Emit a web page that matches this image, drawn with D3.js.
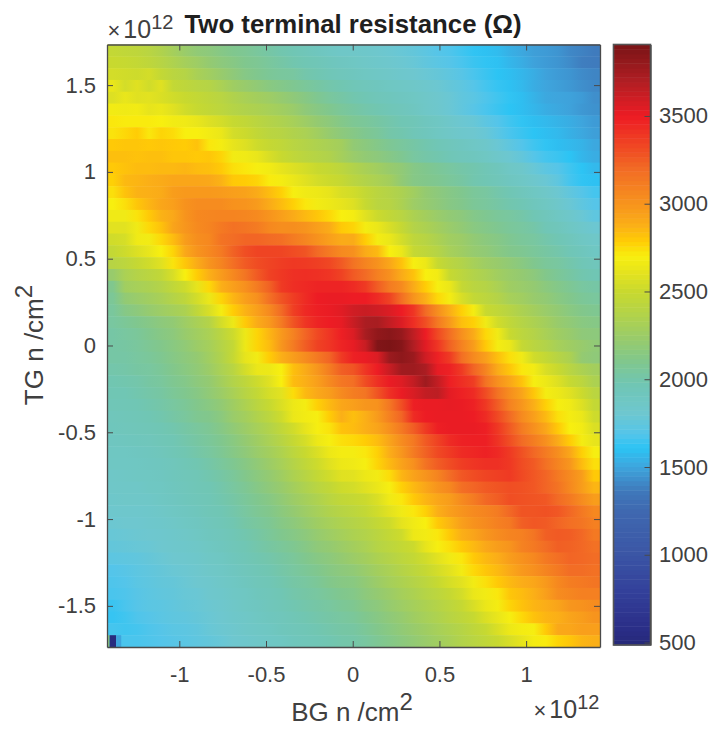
<!DOCTYPE html>
<html>
<head>
<meta charset="utf-8">
<script src="https://cdnjs.cloudflare.com/ajax/libs/d3/7.8.5/d3.min.js"></script>
<style>
  html, body { margin: 0; padding: 0; background: #fff; }
  svg { display: block; }
  text { font-family: "Liberation Sans", Arial, sans-serif; fill: #404040; }
</style>
</head>
<body>
<svg width="712" height="732"></svg>
<script>
// Two terminal resistance map, values in ohm.
// Rows go from the top of the plot (TG high) to the bottom, columns from BG low to BG high.
var resistanceRows = [
  [2470,2450,2440,2410,2360,2300,2240,2190,2170,2130,2100,2080,2050,2020,1990,1970,1940,1910,1880,1860,1850,1840,1820,1800,1780,1760,1730,1700,1680,1650,1620,1600,1580,1540,1510,1480,1470,1450,1410,1390,1370],
  [2500,2490,2470,2440,2400,2350,2300,2260,2210,2170,2140,2100,2080,2050,2020,1990,1970,1950,1920,1900,1880,1860,1840,1820,1800,1780,1750,1720,1700,1670,1640,1620,1600,1560,1530,1490,1470,1450,1420,1380,1370],
  [2540,2530,2520,2540,2470,2420,2390,2320,2280,2230,2180,2130,2100,2070,2050,2040,2000,1980,1950,1930,1910,1890,1870,1850,1830,1810,1790,1770,1740,1710,1670,1640,1610,1590,1560,1530,1490,1470,1450,1420,1400],
  [2630,2540,2590,2530,2590,2470,2440,2410,2390,2330,2270,2230,2190,2150,2120,2090,2060,2030,2000,1980,1950,1930,1910,1890,1870,1850,1830,1800,1770,1740,1700,1660,1630,1600,1570,1530,1500,1480,1460,1430,1410],
  [2580,2630,2590,2600,2570,2530,2500,2470,2440,2410,2360,2320,2290,2260,2220,2180,2140,2090,2050,2020,1990,1970,1940,1920,1900,1880,1850,1820,1790,1750,1720,1680,1650,1620,1590,1550,1510,1500,1490,1470,1430],
  [2670,2660,2670,2620,2640,2590,2530,2490,2460,2430,2390,2360,2340,2310,2280,2240,2180,2140,2100,2060,2030,2000,1980,1950,1930,1900,1860,1830,1790,1750,1710,1670,1640,1610,1590,1560,1530,1510,1490,1460,1440],
  [2720,2710,2710,2710,2700,2670,2660,2630,2580,2540,2490,2460,2420,2380,2350,2310,2260,2210,2170,2120,2080,2060,2030,2000,1970,1950,1910,1880,1840,1800,1780,1730,1690,1650,1620,1590,1570,1550,1530,1500,1470],
  [2730,2760,2790,2720,2770,2750,2700,2700,2670,2640,2540,2510,2460,2420,2400,2360,2330,2280,2220,2170,2130,2090,2060,2010,1990,1950,1920,1890,1860,1830,1810,1780,1720,1670,1640,1610,1590,1570,1540,1510,1480],
  [2800,2810,2810,2800,2810,2800,2790,2820,2720,2680,2620,2580,2520,2480,2450,2410,2380,2350,2320,2290,2200,2160,2120,2080,2050,2020,1990,1960,1930,1900,1870,1840,1790,1740,1690,1650,1620,1590,1570,1550,1510],
  [2830,2830,2820,2830,2830,2810,2810,2800,2810,2770,2670,2660,2630,2560,2500,2450,2420,2390,2360,2300,2240,2200,2170,2130,2090,2040,2010,1990,1960,1930,1910,1880,1840,1800,1760,1700,1660,1640,1610,1560,1530],
  [2800,2820,2840,2840,2850,2850,2860,2840,2830,2800,2740,2720,2690,2670,2620,2580,2540,2500,2470,2430,2370,2320,2280,2230,2190,2130,2100,2070,2040,2010,1990,1960,1920,1870,1840,1780,1730,1700,1650,1610,1570],
  [2780,2850,2860,2880,2900,2920,2920,2920,2910,2870,2800,2790,2770,2710,2680,2640,2590,2540,2510,2480,2420,2370,2330,2290,2200,2130,2110,2090,2060,2030,1990,1970,1940,1900,1870,1830,1790,1740,1660,1620,1600],
  [2740,2820,2870,2880,2900,2960,2980,2980,2980,2970,2950,2940,2900,2840,2780,2690,2660,2650,2620,2560,2530,2470,2420,2380,2340,2280,2210,2170,2130,2100,2060,2040,2000,1970,1930,1890,1850,1800,1750,1700,1660],
  [2700,2740,2810,2860,2920,2950,3010,3040,3040,3040,3010,3000,2970,2900,2840,2780,2720,2670,2650,2620,2580,2490,2420,2400,2340,2260,2220,2180,2140,2110,2070,2050,2020,1990,1970,1920,1890,1840,1790,1740,1700],
  [2660,2660,2730,2800,2870,2910,3000,3060,3070,3080,3080,3070,3050,3000,2950,2900,2850,2810,2760,2700,2680,2590,2510,2460,2410,2340,2290,2240,2200,2170,2120,2090,2060,2040,2010,1970,1930,1880,1840,1790,1740],
  [2600,2600,2660,2760,2820,2930,2990,3050,3080,3130,3170,3150,3120,3060,3030,3030,3000,2950,2900,2800,2770,2680,2640,2560,2480,2380,2340,2290,2240,2200,2150,2120,2090,2060,2040,2010,1960,1930,1880,1840,1800],
  [2530,2550,2660,2670,2760,2840,2960,3030,3060,3160,3190,3220,3220,3200,3180,3120,3070,3010,2950,2900,2900,2790,2680,2640,2540,2440,2400,2340,2280,2250,2200,2160,2130,2090,2060,2040,2000,1970,1930,1880,1850],
  [2470,2520,2575,2630,2700,2770,2910,3000,3060,3125,3230,3300,3340,3340,3335,3310,3280,3200,3120,3050,3020,2900,2850,2700,2640,2480,2440,2390,2310,2270,2220,2190,2150,2110,2090,2060,2030,2000,1960,1920,1880],
  [2400,2430,2480,2530,2590,2730,2810,2900,3000,3080,3180,3260,3310,3340,3370,3390,3380,3360,3330,3260,3160,3080,3010,2920,2820,2690,2650,2490,2420,2370,2310,2260,2230,2190,2150,2100,2060,2040,2000,1960,1930],
  [2230,2330,2380,2420,2460,2560,2700,2790,2880,2970,3060,3150,3260,3350,3390,3420,3430,3420,3400,3350,3260,3200,3100,3020,2900,2820,2700,2670,2490,2430,2370,2330,2280,2240,2210,2170,2110,2070,2030,1990,1970],
  [2100,2280,2310,2340,2380,2450,2520,2620,2760,2880,2950,3020,3120,3230,3380,3430,3450,3470,3470,3470,3440,3380,3250,3120,3050,2900,2790,2690,2640,2480,2420,2390,2330,2270,2240,2210,2160,2120,2080,2040,2020],
  [2070,2200,2240,2280,2320,2380,2440,2540,2640,2770,2860,2950,3020,3170,3280,3370,3440,3500,3510,3510,3500,3500,3440,3350,3180,3000,2880,2760,2680,2560,2470,2430,2380,2310,2280,2230,2200,2150,2110,2070,2050],
  [2050,2130,2170,2220,2260,2300,2340,2450,2560,2680,2790,2870,2950,3050,3200,3360,3450,3490,3510,3540,3600,3620,3600,3560,3500,3400,3200,3030,2890,2780,2680,2500,2450,2400,2340,2290,2240,2200,2150,2110,2090],
  [2040,2070,2100,2130,2170,2200,2260,2320,2380,2540,2650,2800,2900,2980,3120,3280,3400,3470,3500,3520,3620,3720,3730,3640,3560,3430,3300,3130,2980,2830,2780,2660,2530,2450,2390,2340,2290,2230,2190,2150,2130],
  [2020,2040,2060,2100,2140,2170,2230,2280,2330,2420,2520,2650,2770,2860,2980,3090,3220,3320,3400,3490,3560,3730,3820,3850,3800,3650,3500,3320,3180,3020,2900,2760,2660,2500,2430,2380,2320,2270,2230,2180,2170],
  [2020,2030,2050,2080,2110,2150,2190,2250,2300,2380,2470,2650,2770,2840,2990,3120,3250,3350,3400,3470,3520,3620,3880,3900,3860,3700,3540,3400,3230,3090,2960,2800,2680,2640,2480,2420,2370,2310,2270,2230,2190],
  [2020,2020,2040,2060,2090,2130,2170,2210,2280,2360,2480,2620,2670,2790,2880,2960,3040,3130,3220,3380,3480,3510,3560,3780,3830,3780,3600,3480,3380,3180,3050,2950,2830,2740,2660,2530,2470,2400,2340,2210,2180],
  [2000,2010,2030,2040,2070,2110,2150,2190,2250,2330,2410,2540,2640,2650,2700,2830,2900,2990,3110,3240,3280,3400,3500,3620,3760,3770,3720,3520,3480,3380,3220,3080,2900,2810,2720,2670,2560,2500,2410,2340,2290],
  [1980,1990,2000,2030,2050,2090,2120,2170,2210,2290,2370,2440,2520,2590,2700,2840,2880,2950,3050,3140,3180,3310,3420,3510,3550,3640,3770,3640,3490,3430,3370,3160,3020,2920,2820,2690,2650,2580,2490,2430,2340],
  [1970,1970,1990,2010,2030,2070,2100,2140,2190,2250,2320,2400,2470,2550,2600,2750,2850,2910,2960,3050,3110,3150,3280,3420,3510,3570,3640,3660,3530,3480,3440,3310,3160,3030,2930,2810,2680,2650,2590,2510,2420],
  [1950,1960,1970,1990,2010,2040,2070,2110,2150,2200,2270,2340,2420,2490,2570,2650,2680,2780,2850,2920,2950,2990,3010,3140,3300,3490,3510,3510,3520,3510,3480,3390,3250,3090,2990,2880,2780,2690,2660,2580,2470],
  [1930,1940,1950,1970,1990,2020,2050,2090,2110,2160,2240,2290,2360,2430,2520,2640,2670,2690,2790,2880,2830,2880,2970,3100,3220,3440,3500,3510,3510,3510,3500,3440,3320,3200,3050,2950,2850,2740,2680,2640,2520],
  [1920,1930,1940,1950,1970,1990,2020,2050,2080,2130,2190,2250,2310,2370,2450,2530,2620,2690,2730,2820,2840,2880,2930,3020,3130,3250,3380,3490,3510,3510,3510,3490,3390,3260,3120,3020,2920,2800,2700,2670,2570],
  [1900,1910,1920,1930,1950,1970,2000,2030,2060,2100,2150,2210,2270,2330,2400,2480,2550,2650,2690,2740,2760,2790,2840,2930,3040,3130,3260,3350,3440,3480,3490,3490,3410,3300,3200,3110,3020,2900,2790,2680,2620],
  [1890,1890,1900,1910,1930,1960,1980,2010,2040,2080,2130,2180,2240,2290,2350,2430,2500,2570,2650,2680,2680,2720,2780,2890,2990,3120,3230,3320,3380,3440,3460,3480,3450,3380,3290,3210,3120,3030,2920,2780,2690],
  [1880,1880,1890,1900,1910,1930,1960,1980,2010,2050,2090,2140,2190,2250,2310,2380,2450,2520,2590,2650,2660,2690,2770,2850,2940,3020,3160,3250,3310,3370,3400,3420,3420,3390,3310,3260,3170,3080,2990,2840,2740],
  [1860,1870,1880,1890,1900,1920,1940,1960,1990,2020,2060,2110,2160,2210,2270,2340,2400,2470,2530,2590,2600,2650,2670,2750,2860,2940,3000,3080,3190,3270,3310,3340,3360,3380,3320,3270,3220,3130,3050,2960,2800],
  [1850,1860,1860,1880,1890,1910,1930,1950,1970,2000,2040,2080,2130,2180,2230,2290,2350,2410,2460,2520,2540,2590,2640,2690,2780,2850,2920,3000,3060,3180,3220,3260,3280,3300,3290,3270,3220,3160,3060,2960,2860],
  [1840,1850,1850,1860,1880,1900,1920,1940,1960,1990,2020,2060,2100,2140,2190,2250,2300,2350,2410,2460,2480,2510,2570,2660,2720,2800,2860,2920,2960,3050,3120,3210,3250,3300,3290,3280,3270,3200,3130,3040,2960],
  [1820,1830,1830,1840,1860,1880,1900,1920,1950,1970,2000,2040,2080,2110,2160,2210,2260,2310,2360,2400,2430,2470,2530,2600,2660,2720,2780,2880,2950,3000,3050,3080,3120,3210,3280,3280,3290,3270,3210,3130,3060],
  [1800,1810,1810,1830,1840,1860,1880,1900,1930,1950,1980,2020,2050,2080,2130,2170,2220,2270,2310,2350,2380,2420,2470,2520,2610,2660,2700,2800,2860,2950,3010,3050,3100,3130,3240,3270,3260,3220,3180,3150,3100],
  [1780,1790,1800,1810,1820,1840,1860,1880,1910,1930,1960,1990,2020,2060,2100,2130,2170,2220,2260,2300,2340,2370,2420,2470,2520,2650,2670,2720,2800,2880,2930,2990,3040,3080,3100,3150,3240,3260,3250,3210,3130],
  [1760,1770,1780,1790,1810,1830,1840,1860,1890,1910,1940,1970,2000,2030,2060,2090,2130,2180,2210,2250,2290,2330,2390,2430,2470,2510,2620,2690,2740,2800,2850,2910,2960,3000,3090,3130,3190,3240,3230,3210,3170],
  [1730,1740,1750,1770,1790,1810,1820,1840,1870,1890,1920,1950,1980,2000,2030,2060,2100,2140,2170,2210,2250,2290,2340,2380,2430,2470,2530,2600,2660,2720,2800,2850,2890,2960,3010,3060,3130,3180,3220,3210,3190],
  [1690,1710,1730,1750,1770,1790,1800,1820,1850,1870,1900,1930,1960,1980,2010,2040,2070,2100,2140,2170,2190,2240,2290,2330,2380,2430,2480,2540,2600,2670,2760,2810,2850,2910,2980,3020,3080,3130,3190,3190,3170],
  [1680,1690,1720,1740,1760,1770,1790,1810,1830,1860,1880,1910,1940,1960,1990,2020,2040,2070,2110,2140,2150,2200,2250,2300,2340,2380,2430,2490,2550,2600,2670,2740,2800,2850,2890,2920,2980,3060,3110,3130,3150],
  [1670,1680,1710,1730,1750,1760,1780,1790,1820,1840,1870,1890,1920,1940,1970,2000,2020,2040,2070,2100,2120,2170,2210,2250,2300,2340,2390,2430,2480,2540,2640,2670,2720,2810,2840,2880,2950,3040,3070,3100,3100],
  [1640,1670,1700,1720,1730,1750,1770,1780,1800,1820,1850,1880,1900,1930,1950,1980,2000,2020,2040,2070,2090,2140,2170,2220,2260,2300,2340,2380,2430,2480,2560,2640,2680,2770,2820,2860,2890,2930,2990,3010,3040],
  [1630,1650,1680,1700,1720,1740,1750,1770,1790,1810,1840,1860,1890,1910,1930,1960,1980,2000,2020,2040,2060,2100,2140,2180,2220,2270,2310,2350,2400,2440,2490,2570,2630,2690,2760,2820,2860,2880,2930,2960,3000],
  [1660,1650,1660,1680,1700,1720,1730,1750,1780,1800,1820,1850,1870,1890,1920,1940,1960,1980,2000,2020,2030,2070,2110,2150,2190,2230,2270,2310,2350,2390,2440,2490,2570,2650,2680,2690,2800,2910,2920,2950,2950],
  [1670,1670,1670,1680,1690,1710,1720,1740,1760,1780,1810,1830,1850,1870,1890,1920,1940,1960,1980,2000,2010,2040,2080,2120,2160,2200,2240,2280,2320,2370,2410,2450,2500,2560,2620,2680,2710,2770,2810,2860,2880]
];

// The odd dead pixels in the bottom left corner, finer than the columns above.
var cornerEdges = [ -1.417, -1.402, -1.365, -1.335 ];
var cornerValues = [ 2150, 520, 1500 ];

var bgDomain = [ -1.417, 1.426 ],
  tgDomain = [ -1.737, 1.734 ];

var bgTicks = [ -1, -0.5, 0, 0.5, 1 ],
  tgTicks = [ -1.5, -1, -0.5, 0, 0.5, 1, 1.5 ],
  barTicks = [ 500, 1000, 1500, 2000, 2500, 3000, 3500 ];

var barDomain = [ 486, 3907 ];

// Colour map
var colorStops = [ 486, 570, 790, 1000, 1250, 1360, 1500, 1610, 1690, 1810, 1970, 2100, 2230, 2370, 2500, 2610, 2700, 2790, 2880, 3000, 3200, 3300, 3500, 3700, 3907 ];
var colorValues = [ "#262a78", "#2a2d86", "#33409a", "#3b55a5", "#3f68b0", "#3f78ba", "#3ea5dd", "#2cc4f4", "#54c5ea", "#6ec7cf", "#70c6b4", "#80c78e", "#98cb6c", "#b2d34a", "#c8d92f", "#e5e31e", "#f8ef0f", "#ffcc05", "#fbaf17", "#f7941d", "#f26b25", "#f04e23", "#ed1c24", "#b01e23", "#7a1416" ];

var plot = { left: 107, right: 600, top: 44.5, bottom: 647 },
  bar = { left: 613.5, right: 650.5, top: 44.5, bottom: 645 };

var svg = d3.select( "svg" );

var xScale = d3.scaleLinear().domain( bgDomain ).range( [ plot.left, plot.right ] );
var yScale = d3.scaleLinear().domain( tgDomain ).range( [ plot.bottom, plot.top ] );
var barScale = d3.scaleLinear().domain( barDomain ).range( [ bar.bottom, bar.top ] );

var colorScale = d3.scaleLinear().domain( colorStops ).range( colorValues ).clamp( true );

var colBand = d3.scaleBand().domain( d3.range( resistanceRows[ 0 ].length ) ).range( [ plot.left, plot.right ] );
var rowBand = d3.scaleBand().domain( d3.range( resistanceRows.length ) ).range( [ plot.top, plot.bottom ] );

// Drawing the map, one strip per TG row, its colour running through that row's values

var lastCol = resistanceRows[ 0 ].length - 1;

var rowGradients = svg.append( "defs" )
  .selectAll( "linearGradient" )
  .data( resistanceRows )
  .enter().append( "linearGradient" )
    .attr( "id", ( d, i ) => "row" + i )
    .attr( "gradientUnits", "userSpaceOnUse" )
    .attr( "x1", colBand( 0 ) + colBand.bandwidth() / 2 )
    .attr( "x2", colBand( lastCol ) + colBand.bandwidth() / 2 )
    .attr( "y1", 0 )
    .attr( "y2", 0 );

rowGradients.selectAll( "stop" )
  .data( d => d )
  .enter().append( "stop" )
    .attr( "offset", ( d, i ) => i / lastCol )
    .attr( "stop-color", d => colorScale( d ) );

svg.append( "g" )
  .selectAll( "rect" )
  .data( resistanceRows )
  .enter().append( "rect" )
    .attr( "x", plot.left )
    .attr( "y", ( d, i ) => rowBand( i ) )
    .attr( "width", plot.right - plot.left )
    .attr( "height", rowBand.bandwidth() + 0.5 )
    .attr( "fill", ( d, i ) => "url(#row" + i + ")" );

svg.append( "g" )
  .selectAll( "rect" )
  .data( cornerValues )
  .enter().append( "rect" )
    .attr( "x", ( d, i ) => xScale( cornerEdges[ i ] ) )
    .attr( "y", rowBand( resistanceRows.length - 1 ) )
    .attr( "width", ( d, i ) => xScale( cornerEdges[ i + 1 ] ) - xScale( cornerEdges[ i ] ) )
    .attr( "height", rowBand.bandwidth() )
    .attr( "fill", d => colorScale( d ) );

// Axes, ticks point inward on all four sides

var tickText = d => String( d );

function styleAxis( g ) {
  g.selectAll( ".domain" ).attr( "stroke", "#4a4a4a" ).attr( "stroke-width", 1.3 );
  g.selectAll( ".tick line" ).attr( "stroke", "#4a4a4a" ).attr( "stroke-width", 1 );
  g.selectAll( "text" ).attr( "fill", "#404040" ).style( "font-size", "22px" ).style( "font-family", '"Liberation Sans", Arial, sans-serif' );
}

svg.append( "g" )
  .attr( "transform", "translate(0," + plot.bottom + ")" )
  .call( d3.axisBottom( xScale ).tickValues( bgTicks ).tickFormat( tickText ).tickSize( -6 ).tickSizeOuter( 0 ).tickPadding( 19.5 ) )
  .call( styleAxis );

svg.append( "g" )
  .attr( "transform", "translate(0," + plot.top + ")" )
  .call( d3.axisTop( xScale ).tickValues( bgTicks ).tickFormat( "" ).tickSize( -6 ).tickSizeOuter( 0 ) )
  .call( styleAxis );

svg.append( "g" )
  .attr( "transform", "translate(" + plot.left + ",0)" )
  .call( d3.axisLeft( yScale ).tickValues( tgTicks ).tickFormat( tickText ).tickSize( -6 ).tickSizeOuter( 0 ).tickPadding( 11 ) )
  .call( styleAxis );

svg.append( "g" )
  .attr( "transform", "translate(" + plot.right + ",0)" )
  .call( d3.axisRight( yScale ).tickValues( tgTicks ).tickFormat( "" ).tickSize( -6 ).tickSizeOuter( 0 ) )
  .call( styleAxis );

// Colour bar

var barLevels = d3.range( 128 ).map( i => barDomain[ 0 ] + ( i + 0.5 ) * ( barDomain[ 1 ] - barDomain[ 0 ] ) / 128 );
var barStep = ( bar.bottom - bar.top ) / barLevels.length;

svg.append( "g" )
  .selectAll( "rect" )
  .data( barLevels )
  .enter().append( "rect" )
    .attr( "x", bar.left )
    .attr( "y", d => barScale( d ) - barStep / 2 )
    .attr( "width", bar.right - bar.left )
    .attr( "height", barStep + 0.5 )
    .attr( "fill", d => colorScale( d ) );

svg.append( "rect" )
  .attr( "x", bar.left )
  .attr( "y", bar.top )
  .attr( "width", bar.right - bar.left )
  .attr( "height", bar.bottom - bar.top )
  .attr( "fill", "none" )
  .attr( "stroke", "#555" )
  .attr( "stroke-width", 1.6 );

svg.append( "g" )
  .attr( "transform", "translate(" + bar.right + ",0)" )
  .call( d3.axisRight( barScale ).tickValues( barTicks ).tickSize( -6 ).tickSizeOuter( 0 ).tickPadding( 8.5 ).tickFormat( d3.format( "d" ) ) )
  .call( styleAxis );

// Labels

function addLabel( x, y, size, anchor, parts, weight, rotate, color ) {
  var label = svg.append( "text" )
    .attr( "text-anchor", anchor )
    .attr( "font-size", size )
    .attr( "font-weight", weight || "normal" )
    .attr( "transform", "translate(" + x + "," + y + ")" + ( rotate ? " rotate(" + rotate + ")" : "" ) )
    .style( "fill", color || "#404040" );
  parts.forEach( p => {
    label.append( "tspan" )
      .attr( "dx", p.dx || 0 )
      .attr( "dy", p.dy || 0 )
      .attr( "font-size", p.size || size )
      .text( p.text );
  } );
  return label;
}

addLabel( 353, 33, 25.8, "middle", [ { text: "Two terminal resistance (\u03a9)" } ], "bold", 0, "#1f1f1f" );
addLabel( 352, 721, 26, "middle", [ { text: "BG n /cm" }, { text: "2", dy: -11, size: 24 } ] );
addLabel( 43, 345, 26, "middle", [ { text: "TG n /cm" }, { text: "2", dy: -11, size: 24 } ], "normal", -90 );

var exponentParts = [ { text: "\u00d7", size: 22 }, { text: "10", dx: 3, size: 25 }, { text: "12", dy: -9, size: 20 } ];
addLabel( 107.5, 38, 25, "start", exponentParts );
addLabel( 533.5, 718, 25, "start", exponentParts );
</script>
</body>
</html>
